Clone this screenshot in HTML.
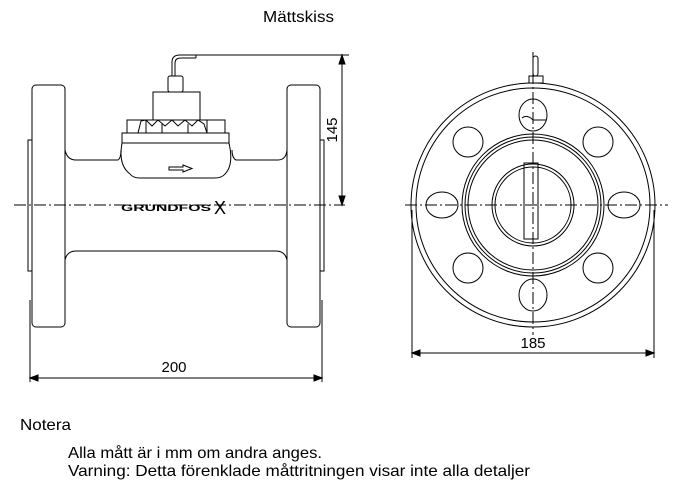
<!DOCTYPE html>
<html><head><meta charset="utf-8"><style>
html,body{margin:0;padding:0;background:#fff;width:686px;height:493px;overflow:hidden}
svg{position:absolute;left:0;top:0}
text{font-family:"Liberation Sans",sans-serif;fill:#000}
</style></head><body>
<svg width="686" height="493" viewBox="0 0 686 493">
<g fill="none" stroke="#000" stroke-width="1">
<rect x="28" y="140" width="4" height="131"/>
<rect x="32" y="85" width="33" height="242" rx="4"/>
<rect x="287" y="85" width="33" height="242" rx="4"/>
<rect x="320" y="140" width="4" height="131"/>
<path d="M65,150 Q67,160 76,160 L118,160 Q121,158 121,150"/>
<path d="M232,150 Q232,158 236,160 L278,160 Q286,160 287,150"/>
<path d="M65,260 Q67,251 76,251 L276,251 Q285,251 287,260"/>
<path d="M122,143 Q118,165 130,174 Q133,178 140,178 L214,178 Q222,178 225,174 Q234,165 229,143"/>
<rect x="122" y="133" width="107" height="10"/>
<rect x="127" y="120" width="98" height="13"/>
<path d="M146,120 V133 M207,120 V133 M138,133 L141,121 L146,120 L152,126 L158,120 L165,126 L172,120 L178,126 L185,120 L192,126 L198,120 L204,124 L207,133"/>
<path d="M162,124 V133 M188,124 V133"/>
<rect x="153" y="92" width="47" height="28"/>
<rect x="168" y="76" width="15" height="16" rx="2"/>
<path d="M172,76 V62 Q172,55 180,55 L196,55 M175,76 V63 Q175,58 181,58 L196,58 M196,55 V58"/>
<path d="M196,55 H349"/>
<path d="M169,167 H183 V165 L192,168.5 L183,172 V170 H169 Z"/>
<path d="M342,57 V203"/>
<path d="M339,64 L342,55 L345,64 Z M339,196 L342,205 L345,196 Z" fill="#000"/>
<path d="M30,300 V382 M322,300 V382 M30,378 H322"/>
<path d="M30,378 l8,-3 v6 z M322,378 l-8,-3 v6 z" fill="#000"/>
<path d="M14,205 H345" stroke-dasharray="12,3,2,3"/>
<circle cx="533" cy="205" r="122"/>
<circle cx="533" cy="205" r="117"/>
<circle cx="533" cy="205" r="71"/>
<circle cx="533" cy="205" r="68"/>
<circle cx="533" cy="205" r="65"/>
<circle cx="533" cy="205" r="41"/>
<circle cx="533" cy="205" r="38"/>
<rect x="524" y="163" width="14" height="76"/>
<ellipse cx="533" cy="115" rx="14" ry="16"/>
<ellipse cx="533" cy="295" rx="14" ry="16"/>
<ellipse cx="442" cy="205" rx="16" ry="13"/>
<ellipse cx="624" cy="205" rx="16" ry="13"/>
<ellipse cx="468" cy="142" rx="15" ry="15"/>
<ellipse cx="598" cy="142" rx="15" ry="15"/>
<ellipse cx="468" cy="268" rx="15" ry="15"/>
<ellipse cx="598" cy="268" rx="15" ry="15"/>
<path d="M522,118 Q527,114 533,120 H546"/>
<rect x="529" y="76" width="14" height="7"/>
<rect x="533" y="56" width="5" height="20" rx="2.5"/>
<path d="M405,205 H668 M533,52 V335" stroke-dasharray="12,3,2,3"/>
<path d="M412,210 V358 M654,210 V358 M412,353 H654"/>
<path d="M412,353 l8,-3 v6 z M654,353 l-8,-3 v6 z" fill="#000"/>
</g>
<text x="121" y="211" font-size="9" font-weight="bold" textLength="90" lengthAdjust="spacingAndGlyphs" fill="#666">GRUNDFOS</text>
<text x="214" y="214" font-size="18" fill="#555">X</text>
<text x="263" y="22" font-size="16" textLength="71" lengthAdjust="spacingAndGlyphs">Mättskiss</text>
<text x="174" y="372" font-size="15" text-anchor="middle">200</text>
<text x="533" y="348" font-size="15" text-anchor="middle">185</text>
<text transform="translate(337,130) rotate(-90)" font-size="15" text-anchor="middle">145</text>
<text x="20" y="430" font-size="16" textLength="51" lengthAdjust="spacingAndGlyphs">Notera</text>
<text x="68" y="458" font-size="16" textLength="254" lengthAdjust="spacingAndGlyphs">Alla mått är i mm om andra anges.</text>
<text x="68" y="476" font-size="16" textLength="462" lengthAdjust="spacingAndGlyphs">Varning: Detta förenklade måttritningen visar inte alla detaljer</text>
</svg>
</body></html>
